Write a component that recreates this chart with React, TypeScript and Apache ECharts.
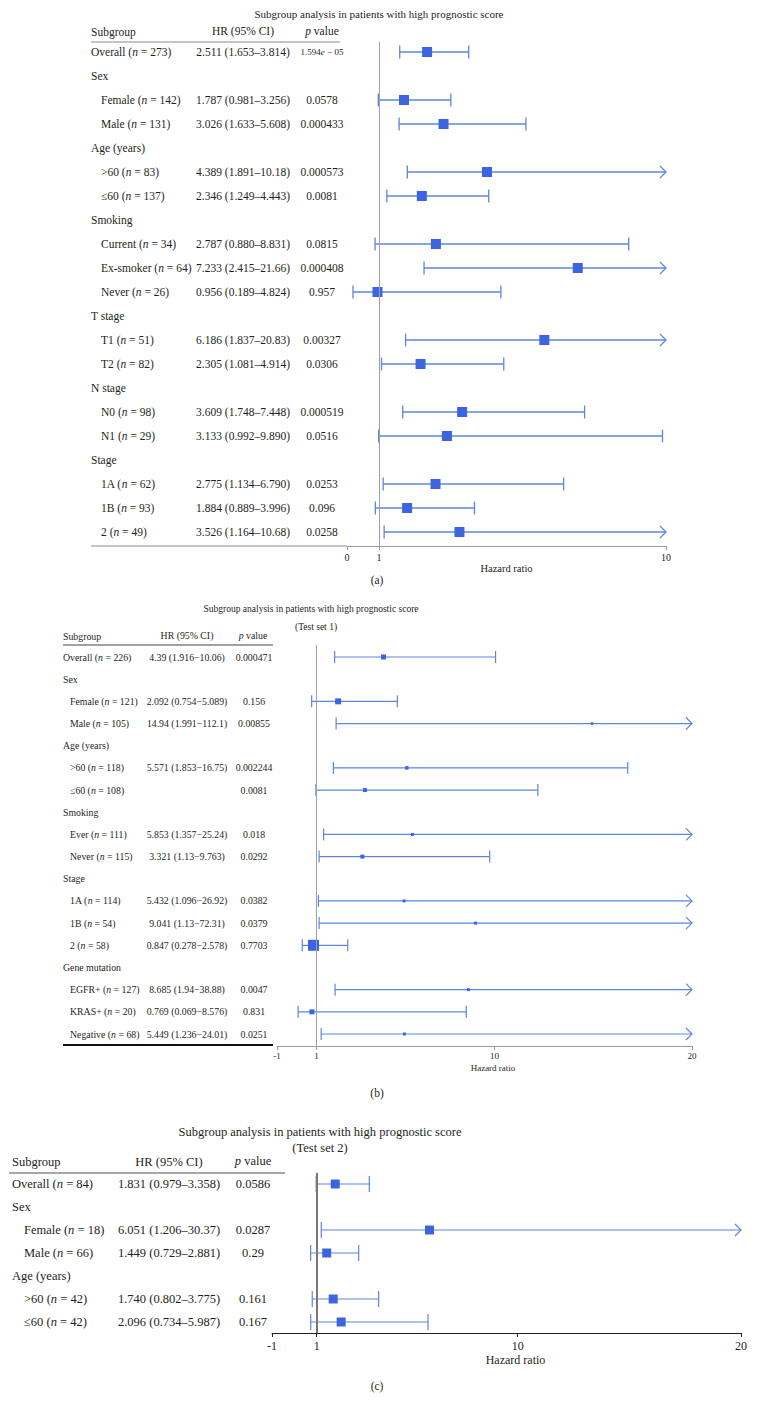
import React, { useEffect, useRef } from "react";
import * as echarts from "echarts";

const FONT = '"Liberation Serif", "DejaVu Serif", serif';
const TEXT = "#231f20";
const LINE_BLUE = "#5f84e0";
const BOX_BLUE = "#3c64e1";

// ---------- Panel (a): all patients ----------
const aRows = ["Overall", "Sex", "Female", "Male", "Age (years)", ">60", "≤60", "Smoking", "Current", "Ex-smoker", "Never", "T stage", "T1", "T2", "N stage", "N0", "N1", "Stage", "1A", "1B", "2"];
const aN = [273, null, 142, 131, null, 83, 137, null, 34, 64, 26, null, 51, 82, null, 98, 29, null, 62, 93, 49];
const aHR = [2.511, null, 1.787, 3.026, null, 4.389, 2.346, null, 2.787, 7.233, 0.956, null, 6.186, 2.305, null, 3.609, 3.133, null, 2.775, 1.884, 3.526];
const aLow = [1.653, null, 0.981, 1.633, null, 1.891, 1.249, null, 0.88, 2.415, 0.189, null, 1.837, 1.081, null, 1.748, 0.992, null, 1.134, 0.889, 1.164];
const aHigh = [3.814, null, 3.256, 5.608, null, 10.18, 4.443, null, 8.831, 21.66, 4.824, null, 20.83, 4.914, null, 7.448, 9.89, null, 6.79, 3.996, 10.68];
const aP = [1.594e-5, null, 0.0578, 0.000433, null, 0.000573, 0.0081, null, 0.0815, 0.000408, 0.957, null, 0.00327, 0.0306, null, 0.000519, 0.0516, null, 0.0253, 0.096, 0.0258];
const aTicks = [0, 1, 10];

// ---------- Panel (b): Test set 1 ----------
const bRows = ["Overall", "Sex", "Female", "Male", "Age (years)", ">60", "≤60", "Smoking", "Ever", "Never", "Stage", "1A", "1B", "2", "Gene mutation", "EGFR+", "KRAS+", "Negative"];
const bN = [226, null, 121, 105, null, 118, 108, null, 111, 115, null, 114, 54, 58, null, 127, 20, 68];
const bHR = [4.39, null, 2.092, 14.94, null, 5.571, 3.45, null, 5.853, 3.321, null, 5.432, 9.041, 0.847, null, 8.685, 0.769, 5.449];
const bLow = [1.916, null, 0.754, 1.991, null, 1.853, 0.97, null, 1.357, 1.13, null, 1.096, 1.13, 0.278, null, 1.94, 0.069, 1.236];
const bHigh = [10.06, null, 5.089, 112.1, null, 16.75, 12.2, null, 25.24, 9.763, null, 26.92, 72.31, 2.578, null, 38.88, 8.576, 24.01];
const bP = [0.000471, null, 0.156, 0.00855, null, 0.002244, 0.0081, null, 0.018, 0.0292, null, 0.0382, 0.0379, 0.7703, null, 0.0047, 0.831, 0.0251];
const bWeight = [5, 0, 6, 2.5, 0, 3.5, 4, 0, 3, 4, 0, 3, 3, 11, 0, 3, 5, 3];
const bNoEstimateText = ["≤60"];
const bTicks = [-1, 1, 10, 20];

// ---------- Panel (c): Test set 2 ----------
const cRows = ["Overall", "Sex", "Female", "Male", "Age (years)", ">60", "≤60"];
const cN = [84, null, 18, 66, null, 42, 42];
const cHR = [1.831, null, 6.051, 1.449, null, 1.74, 2.096];
const cLow = [0.979, null, 1.206, 0.729, null, 0.802, 0.734];
const cHigh = [3.358, null, 30.37, 2.881, null, 3.775, 5.987];
const cP = [0.0586, null, 0.0287, 0.29, null, 0.161, 0.167];
const cTicks = [-1, 1, 20, 10].sort((x, y) => x - y);

type Panel = any;

const panels: Panel[] = [
  {
    rows: aRows, n: aN, hr: aHR, lo: aLow, hi: aHigh, p: aP, weight: null, noText: [],
    ticks: aTicks, trim: false, dash: "–",
    grid: { left: 347, top: 42, width: 319, height: 504 }, firstY: 52, lastY: 532,
    cols: { label: 91, indent: 101, hr: 243, p: 322 }, font: 11.5, box: 10, whisker: 6.5, arrow: 6,
    refColor: "#a0a0a0", refWidth: 1, axisColor: "#9a9a9a", tickFont: 10, nameFont: 10.5,
    labelMargin: 6, nameGap: 14, namePad: 0, lineWidth: 1.3,
  },
  {
    rows: bRows, n: bN, hr: bHR, lo: bLow, hi: bHigh, p: bP, weight: bWeight, noText: bNoEstimateText,
    ticks: bTicks, trim: true, dash: "−",
    grid: { left: 277, top: 645, width: 415, height: 401 }, firstY: 657, lastY: 1034,
    cols: { label: 63, indent: 70, hr: 187, p: 254 }, font: 9.8, box: 5, whisker: 6, arrow: 6,
    refColor: "#a0a0a0", refWidth: 1, axisColor: "#9a9a9a", tickFont: 9, nameFont: 9,
    labelMargin: 5, nameGap: 17, namePad: 17, lineWidth: 1.2,
  },
  {
    rows: cRows, n: cN, hr: cHR, lo: cLow, hi: cHigh, p: cP, weight: null, noText: [],
    ticks: cTicks, trim: false, dash: "–",
    grid: { left: 272, top: 1173, width: 469, height: 160 }, firstY: 1184, lastY: 1322,
    cols: { label: 12, indent: 24, hr: 169, p: 253 }, font: 12.5, box: 9, whisker: 8, arrow: 6,
    refColor: "#777777", refWidth: 2, axisColor: "#222222", tickFont: 12, nameFont: 12,
    labelMargin: 7, nameGap: 21, namePad: 18, lineWidth: 1.2,
  },
];

const fmt = (v: number, trim: boolean) =>
  v < 1 ? v.toFixed(3) : trim ? String(Number(v.toPrecision(4))) : v.toPrecision(4);

const pRich = (font: number) => ({ it: { fontStyle: "italic", fontFamily: FONT, fontSize: font, fill: TEXT } });

function renderFor(P: Panel) {
  const xMin = P.ticks[0];
  const xMax = P.ticks[P.ticks.length - 1];
  return (params: any, api: any) => {
    const i = params.dataIndex;
    const y = api.coord([xMin, i])[1];
    const kids: any[] = [];
    const isHeader = P.n[i] == null;
    const label = isHeader ? P.rows[i] : `${P.rows[i]} ({it|n} = ${P.n[i]})`;
    kids.push({
      type: "text",
      x: i === 0 || isHeader ? P.cols.label : P.cols.indent,
      y,
      style: { text: label, fill: TEXT, fontFamily: FONT, fontSize: P.font, align: "left", verticalAlign: "middle", rich: pRich(P.font) },
    });
    const hr = P.hr[i], lo = P.lo[i], hi = P.hi[i], p = P.p[i];
    if (hr != null && !P.noText.includes(P.rows[i])) {
      kids.push({
        type: "text", x: P.cols.hr, y,
        style: { text: `${fmt(hr, P.trim)} (${fmt(lo, P.trim)}${P.dash}${fmt(hi, P.trim)})`, fill: TEXT, fontFamily: FONT, fontSize: P.font, align: "center", verticalAlign: "middle" },
      });
    }
    if (p != null) {
      let txt = String(p);
      let fs = P.font;
      if (p < 1e-4) {
        const [m, e] = p.toExponential(3).split("e");
        txt = `${m}{it|e} − ${String(Math.abs(Number(e))).padStart(2, "0")}`;
        fs = P.font - 2.5;
      }
      kids.push({
        type: "text", x: P.cols.p, y,
        style: { text: txt, fill: TEXT, fontFamily: FONT, fontSize: fs, align: "center", verticalAlign: "middle", rich: pRich(fs) },
      });
    }
    if (hr != null) {
      const xl = api.coord([Math.max(lo, xMin), i])[0];
      const xh = api.coord([Math.min(hi, xMax), i])[0];
      const xc = api.coord([hr, i])[0];
      const st = { stroke: LINE_BLUE, lineWidth: P.lineWidth, fill: "none" };
      const w = P.whisker;
      kids.push({ type: "line", shape: { x1: xl, y1: y, x2: xh, y2: y }, style: st });
      kids.push({ type: "line", shape: { x1: xl, y1: y - w, x2: xl, y2: y + w }, style: st });
      if (hi > xMax) {
        const a = P.arrow;
        kids.push({ type: "polyline", shape: { points: [[xh - a, y - a], [xh, y], [xh - a, y + a]] }, style: st });
      } else {
        kids.push({ type: "line", shape: { x1: xh, y1: y - w, x2: xh, y2: y + w }, style: st });
      }
      const s = P.weight ? P.weight[i] : P.box;
      kids.push({ type: "rect", shape: { x: xc - s / 2, y: y - s / 2, width: s, height: s }, style: { fill: BOX_BLUE } });
    }
    return { type: "group", children: kids };
  };
}

function buildOption() {
  const grid: any[] = [];
  const xAxis: any[] = [];
  const yAxis: any[] = [];
  const series: any[] = [];
  panels.forEach((P, k) => {
    const g = P.grid;
    const step = (P.lastY - P.firstY) / (P.rows.length - 1);
    const yMin = -(P.firstY - g.top) / step;
    const yMax = yMin + g.height / step;
    grid.push({ left: g.left, top: g.top, width: g.width, height: g.height, containLabel: false });
    xAxis.push({
      gridIndex: k, type: "value", min: P.ticks[0], max: P.ticks[P.ticks.length - 1],
      axisLine: { show: true, onZero: false, lineStyle: { color: P.axisColor, width: 1 } },
      axisTick: { show: true, customValues: P.ticks, length: 4, lineStyle: { color: P.axisColor } },
      axisLabel: { customValues: P.ticks, fontFamily: FONT, fontSize: P.tickFont, color: TEXT, margin: P.labelMargin, showMinLabel: true, showMaxLabel: true },
      splitLine: { show: false },
      name: "Hazard ratio", nameLocation: "middle", nameGap: P.nameGap,
      nameTextStyle: { fontFamily: FONT, fontSize: P.nameFont, color: TEXT, padding: [0, 0, 0, P.namePad] },
    });
    yAxis.push({ gridIndex: k, type: "value", min: yMin, max: yMax, inverse: true, show: false });
    series.push({
      type: "custom", xAxisIndex: k, yAxisIndex: k, clip: false, silent: true,
      data: P.rows.map((_: string, i: number) => [P.hr[i] ?? 1, i]),
      encode: { x: 0, y: 1 },
      renderItem: renderFor(P),
      markLine: {
        silent: true, symbol: ["none", "none"], label: { show: false },
        lineStyle: { color: P.refColor, width: P.refWidth, type: "solid" },
        data: [{ xAxis: 1 }],
      },
      z: 3,
    });
  });

  const t = (text: string, x: number, y: number, size: number, align = "center", rich = false) => ({
    type: "text", x, y, silent: true,
    style: { text, fill: TEXT, fontFamily: FONT, fontSize: size, align, verticalAlign: "middle", ...(rich ? { rich: pRich(size) } : {}) },
  });
  const ln = (x1: number, y1: number, x2: number, y2: number, stroke: string, lineWidth: number) => ({
    type: "line", silent: true, shape: { x1, y1, x2, y2 }, style: { stroke, lineWidth },
  });
  const title = "Subgroup analysis in patients with high prognostic score";
  const graphic = [
    // (a)
    t(title, 379, 14, 11),
    t("Subgroup", 91, 32, 11.5, "left"),
    t("HR (95% CI)", 243, 31, 11.5),
    t("{it|p} value", 322, 31, 11.5, "center", true),
    ln(91, 42, 340, 42, "#8a8a8a", 1),
    ln(91, 546, 347, 546, "#8a8a8a", 1),
    t("(a)", 377, 580, 11.5),
    // (b)
    t(title, 311, 609, 9.5),
    t("(Test set 1)", 316, 627, 9.5),
    t("Subgroup", 63, 636, 9.8, "left"),
    t("HR (95% CI)", 187, 635, 9.8),
    t("{it|p} value", 253, 635, 9.8, "center", true),
    ln(63, 645, 273, 645, "#444", 1.2),
    ln(63, 1045, 273, 1045, "#111", 2),
    t("(b)", 377, 1093, 11.5),
    // (c)
    t(title, 320, 1132, 12.5),
    t("(Test set 2)", 320, 1148, 12.5),
    t("Subgroup", 12, 1162, 12.5, "left"),
    t("HR (95% CI)", 169, 1162, 12.5),
    t("{it|p} value", 253, 1161, 12.5, "center", true),
    ln(9, 1173, 285, 1173, "#8a8a8a", 1.5),
    t("(c)", 377, 1386, 11.5),
  ];

  return { animation: false, backgroundColor: "#ffffff", grid, xAxis, yAxis, series, graphic };
}

export default function App() {
  const ref = useRef<HTMLDivElement>(null);
  useEffect(() => {
    if (!ref.current) return;
    const chart = echarts.init(ref.current, undefined, { renderer: "svg" });
    chart.setOption(buildOption() as any);
    return () => chart.dispose();
  }, []);
  return <div ref={ref} style={{ position: "absolute", left: 0, top: 0, width: 758, height: 1410, background: "#fff" }} />;
}
